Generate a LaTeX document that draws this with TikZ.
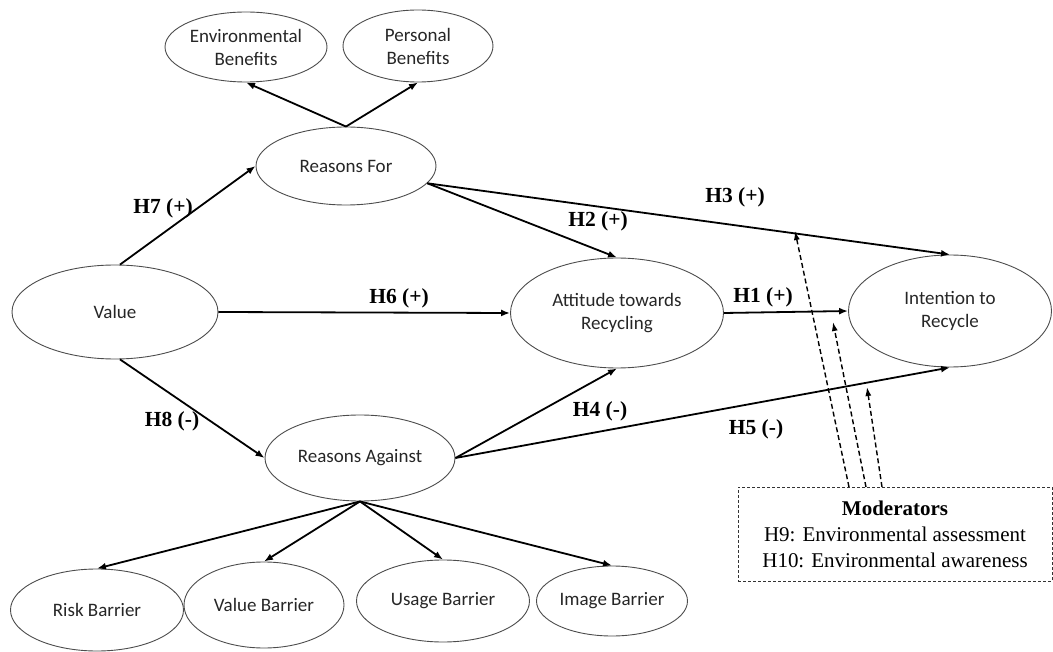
\documentclass[tikz,border=0pt]{standalone}
\usepackage{fontspec}
\setmainfont{Liberation Serif}
\newfontfamily\carlito{Carlito}
\usetikzlibrary{shapes.geometric,arrows.meta,calc}
\begin{document}
\begin{tikzpicture}[x=1pt,y=-1pt,
  ell/.style={ellipse,draw=black!70,line width=0.9pt,inner sep=0pt,align=center,
    font=\carlito\fontsize{19}{23}\selectfont,text=black!85},
  arr/.style={line width=1.8pt,-{Latex[length=9pt,width=7pt]}},
  darr/.style={line width=1.4pt,dash pattern=on 5pt off 3pt,-{Latex[length=9pt,width=6pt]}},
  hlab/.style={font=\bfseries\fontsize{21.5}{25}\selectfont,inner sep=0pt},
  modbox/.style={draw=black!80,line width=0.9pt,dash pattern=on 3pt off 2pt,inner sep=0pt,
    align=center,font=\fontsize{21}{26}\selectfont}]
\useasboundingbox (0,0) rectangle (1053,652);
% nodes
\node[ell,minimum width=162pt,minimum height=70pt] (envben) at (246,47) {Environmental\\Benefits};
\node[ell,minimum width=150pt,minimum height=72pt] (persben) at (418,46) {Personal\\Benefits};
\node[ell,minimum width=180pt,minimum height=78pt] (rfor) at (346,166) {Reasons For};
\node[ell,minimum width=206pt,minimum height=94pt] (value) at (115,312) {Value};
\node[ell,minimum width=213pt,minimum height=110pt] (att) at (617,313) {Attitude towards\\Recycling};
\node[ell,minimum width=203pt,minimum height=112pt] (intent) at (950,311) {Intention to\\Recycle};
\node[ell,minimum width=190pt,minimum height=86pt] (ra) at (360,458) {Reasons Against};
\node[ell,minimum width=173pt,minimum height=82pt] (risk) at (97,610) {Risk Barrier};
\node[ell,minimum width=160pt,minimum height=86pt] (valb) at (264,605) {Value Barrier};
\node[ell,minimum width=173pt,minimum height=82pt] (usage) at (443,601) {Usage Barrier};
\node[ell,minimum width=151pt,minimum height=70pt] (image) at (612,601) {Image Barrier};
\node[modbox,minimum width=314pt,minimum height=94pt] (mod) at (895,534)
  {\textbf{Moderators}\\H9: Environmental assessment\\H10: Environmental awareness};
% connectors
\draw[arr] (rfor.north) -- (envben.south);
\draw[arr] (rfor.north) -- (persben.south);
\draw[arr] (value.84) -- (rfor.west);
\draw[arr] (value.east) -- (att.west);
\draw[arr] (value.276) -- (ra.west);
\draw[arr] (rfor.-12) -- (att.north);
\draw[arr] (rfor.-12) -- (intent.north);
\draw[arr] (att.east) -- (intent.west);
\draw[arr] (ra.east) -- (att.south);
\draw[arr] (ra.east) -- (intent.south);
\draw[arr] (ra.south) -- (risk.north);
\draw[arr] (ra.south) -- (valb.north);
\draw[arr] (ra.south) -- (usage.north);
\draw[arr] (ra.south) -- (image.north);
% moderator arrows
\coordinate (m1) at (849,487);
\coordinate (m2) at (866,487);
\coordinate (m3) at (882,487);
\coordinate (t1) at (795,231);
\coordinate (t2) at (833,322);
\coordinate (t3) at (867,387);
\draw[darr] (m1) -- (t1);
\draw[darr] (m2) -- (t2);
\draw[darr] (m3) -- (t3);
% labels
\node[hlab] (h7) at (163,208) {H7 (+)};
\node[hlab] (h6) at (399,298) {H6 (+)};
\node[hlab] (h8) at (172,421) {H8 (-)};
\node[hlab] (h2) at (598,221) {H2 (+)};
\node[hlab] (h3) at (735,197) {H3 (+)};
\node[hlab] (h1) at (763,297) {H1 (+)};
\node[hlab] (h4) at (600,411) {H4 (-)};
\node[hlab] (h5) at (756,429) {H5 (-)};
\end{tikzpicture}
\end{document}
